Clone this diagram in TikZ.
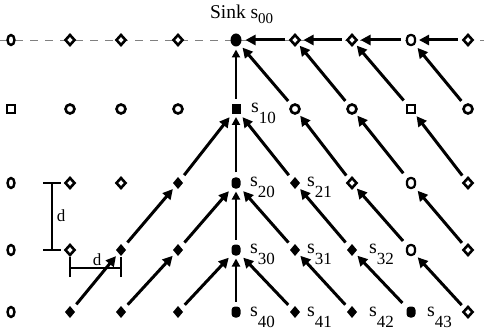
\documentclass[tikz,border=0pt]{standalone}
\usepackage{fontspec}
\setmainfont{Liberation Serif}
\usetikzlibrary{shapes.geometric,arrows.meta}
\begin{document}
\begin{tikzpicture}[x=1pt,y=-1pt,
  base/.style={inner sep=0pt,outer sep=0pt},
  hnode/.style={base,diamond,draw,line width=2.6pt,fill=white,minimum width=9pt,minimum height=10pt},
  onode/.style={base,circle,draw,line width=2.6pt,fill=white,minimum size=9pt},
  zeronode/.style={base,ellipse,draw,line width=2.4pt,fill=white,minimum width=7pt,minimum height=10pt},
  sqnode/.style={base,rectangle,draw,line width=2.2pt,fill=white,minimum size=8pt},
  dnode/.style={base,rectangle,rounded corners=3.5pt,draw,line width=2.2pt,fill=white,minimum width=8pt,minimum height=10pt},
  fnode/.style={base,diamond,fill=black,minimum width=10pt,minimum height=12pt},
  fdnode/.style={base,rectangle,rounded corners=3.5pt,fill=black,minimum width=9pt,minimum height=11pt},
  fsqnode/.style={base,rectangle,fill=black,minimum width=9pt,minimum height=10pt},
  sinknode/.style={base,ellipse,fill=black,minimum width=11pt,minimum height=13pt},
  link/.style={line width=3pt,-{Triangle[length=10pt,width=10pt]},shorten <=6pt,shorten >=4pt},
  vlink/.style={line width=2pt,-{Triangle[length=8pt,width=8pt]},shorten <=5pt,shorten >=3pt},
  lbl/.style={base,anchor=west,font=\fontsize{20}{20}\selectfont},
  bar/.style={line width=2.2pt},
  dlbl/.style={base,font=\fontsize{17}{17}\selectfont}
]
\useasboundingbox (0,0) rectangle (484,331);
\def\xa{11}\def\xb{70}\def\xc{121}\def\xd{178}\def\xe{236}\def\xf{295}\def\xg{352}\def\xh{411}\def\xi{468}
\def\ya{40}\def\yb{109}\def\yc{183}\def\yd{250}\def\ye{312}
% dashed line
\coordinate (dl) at (0,\ya);
\coordinate (dr) at (484,\ya);
\draw[dashed,gray,line width=0.8pt,dash pattern=on 8pt off 7pt] (dl) -- (dr);
% row 0
\node[zeronode] (n00) at (\xa,\ya) {};
\node[hnode] (n01) at (\xb,\ya) {};
\node[hnode] (n02) at (\xc,\ya) {};
\node[hnode] (n03) at (\xd,\ya) {};
\node[sinknode] (n04) at (\xe,\ya) {};
\node[hnode] (n05) at (\xf,\ya) {};
\node[hnode] (n06) at (\xg,\ya) {};
\node[dnode] (n07) at (\xh,\ya) {};
\node[hnode] (n08) at (\xi,\ya) {};
% row 1
\node[sqnode] (n10) at (\xa,\yb) {};
\node[onode] (n11) at (\xb,\yb) {};
\node[onode] (n12) at (\xc,\yb) {};
\node[onode] (n13) at (\xd,\yb) {};
\node[fsqnode] (n14) at (\xe,\yb) {};
\node[onode] (n15) at (\xf,\yb) {};
\node[onode] (n16) at (\xg,\yb) {};
\node[sqnode] (n17) at (\xh,\yb) {};
\node[onode] (n18) at (\xi,\yb) {};
% row 2
\node[zeronode] (n20) at (\xa,\yc) {};
\node[hnode] (n21) at (\xb,\yc) {};
\node[hnode] (n22) at (\xc,\yc) {};
\node[fnode] (n23) at (\xd,\yc) {};
\node[fdnode] (n24) at (\xe,\yc) {};
\node[fnode] (n25) at (\xf,\yc) {};
\node[hnode] (n26) at (\xg,\yc) {};
\node[dnode] (n27) at (\xh,\yc) {};
\node[hnode] (n28) at (\xi,\yc) {};
% row 3
\node[zeronode] (n30) at (\xa,\yd) {};
\node[hnode] (n31) at (\xb,\yd) {};
\node[fnode] (n32) at (\xc,\yd) {};
\node[fnode] (n33) at (\xd,\yd) {};
\node[fdnode] (n34) at (\xe,\yd) {};
\node[fnode] (n35) at (\xf,\yd) {};
\node[fnode] (n36) at (\xg,\yd) {};
\node[dnode] (n37) at (\xh,\yd) {};
\node[hnode] (n38) at (\xi,\yd) {};
% row 4
\node[zeronode] (n40) at (\xa,\ye) {};
\node[fnode] (n41) at (\xb,\ye) {};
\node[fnode] (n42) at (\xc,\ye) {};
\node[fnode] (n43) at (\xd,\ye) {};
\node[fdnode] (n44) at (\xe,\ye) {};
\node[fnode] (n45) at (\xf,\ye) {};
\node[fnode] (n46) at (\xg,\ye) {};
\node[fdnode] (n47) at (\xh,\ye) {};
\node[hnode] (n48) at (\xi,\ye) {};
% vertical arrows
\draw[vlink] (n44) -- (n34);
\draw[vlink] (n34) -- (n24);
\draw[vlink] (n24) -- (n14);
\draw[vlink] (n14) -- (n04);
% left diagonals
\draw[link] (n41) -- (n32);
\draw[link] (n32) -- (n23);
\draw[link] (n23) -- (n14);
\draw[link] (n42) -- (n33);
\draw[link] (n33) -- (n24);
\draw[link] (n43) -- (n34);
% right diagonals
\draw[link] (n15) -- (n04);
\draw[link] (n16) -- (n05);
\draw[link] (n17) -- (n06);
\draw[link] (n18) -- (n07);
\draw[link] (n25) -- (n14);
\draw[link] (n26) -- (n15);
\draw[link] (n27) -- (n16);
\draw[link] (n28) -- (n17);
\draw[link] (n35) -- (n24);
\draw[link] (n36) -- (n25);
\draw[link] (n37) -- (n26);
\draw[link] (n38) -- (n27);
\draw[link] (n45) -- (n34);
\draw[link] (n46) -- (n35);
\draw[link] (n47) -- (n36);
\draw[link] (n48) -- (n37);
% horizontal top
\draw[link] (n05) -- (n04);
\draw[link] (n06) -- (n05);
\draw[link] (n07) -- (n06);
\draw[link] (n08) -- (n07);
% labels
\newcommand{\slab}[1]{s\raisebox{-11pt}{\fontsize{17}{17}\selectfont #1}}
\node[base,anchor=base west,font=\fontsize{19.5}{19.5}\selectfont] (sink) at (210,19) {Sink s\raisebox{-5pt}{\fontsize{15}{15}\selectfont 00}};
\node[lbl,anchor=base west] (l10) at (251,113) {\slab{10}};
\node[lbl,anchor=base west] (l20) at (250,186) {\slab{20}};
\node[lbl,anchor=base west] (l30) at (250,253) {\slab{30}};
\node[lbl,anchor=base west] (l40) at (250,316) {\slab{40}};
\node[lbl,anchor=base west] (l21) at (307,186) {\slab{21}};
\node[lbl,anchor=base west] (l31) at (307,253) {\slab{31}};
\node[lbl,anchor=base west] (l41) at (307,316) {\slab{41}};
\node[lbl,anchor=base west] (l32) at (369,253) {\slab{32}};
\node[lbl,anchor=base west] (l42) at (369,316) {\slab{42}};
\node[lbl,anchor=base west] (l43) at (427,316) {\slab{43}};
% dimension bars
\coordinate (va) at (52,\yc);
\coordinate (vb) at (52,\yd);
\draw[bar] (va) -- (vb);
\draw[bar] ([xshift=-9pt]va) -- ([xshift=9pt]va);
\draw[bar] ([xshift=-9pt]vb) -- ([xshift=9pt]vb);
\node[dlbl] (dv) at (61,216) {d};
\coordinate (ha) at (70,268);
\coordinate (hb) at (121,268);
\draw[bar] (ha) -- (hb);
\draw[bar] ([yshift=-9pt]ha) -- ([yshift=11pt]ha);
\draw[bar] ([yshift=-9pt]hb) -- ([yshift=11pt]hb);
\node[dlbl] (dh) at (97,260) {d};
\end{tikzpicture}
\end{document}
